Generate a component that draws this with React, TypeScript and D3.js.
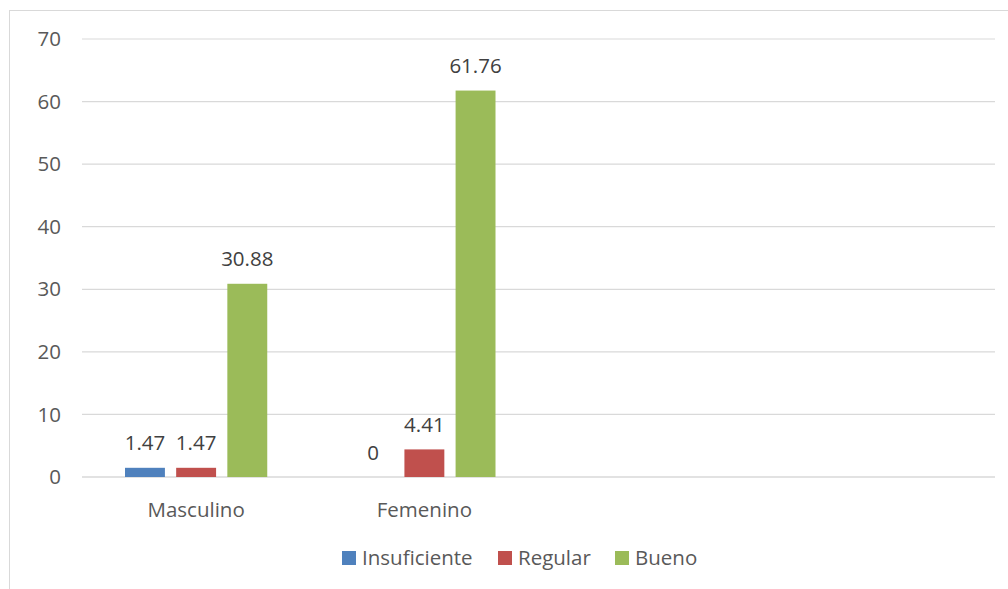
import React from "react";
import * as d3 from "d3";

const categories = ["Masculino", "Femenino", "", " "];
const seriesNames = ["Insuficiente", "Regular", "Bueno"];
const seriesColors = ["#4f81bd", "#c0504d", "#9bbb59"];
const insuficiente = [1.47, 0, null, null];
const regular = [1.47, 4.41, null, null];
const bueno = [30.88, 61.76, null, null];
const yTicks = [0, 10, 20, 30, 40, 50, 60, 70];

const W = 1008;
const H = 589;
const FONT = "'Open Sans', 'Liberation Sans', sans-serif";
const FS = 20.5;
const TEXT = "#595959";

export default function App() {
  const series = [insuficiente, regular, bueno];
  const x = d3.scaleBand<string>().domain(categories).range([82, 995]);
  const y = d3.scaleLinear().domain([0, 70]).range([477, 39]);
  const inner = d3
    .scaleBand<string>()
    .domain(seriesNames)
    .range([43, x.bandwidth() - 43])
    .paddingInner(0.22);

  const legendX = [342, 498, 615];

  return (
    <svg
      width={W}
      height={H}
      style={{ position: "absolute", left: 0, top: 0, background: "#fff" }}
    >
      <rect x={9.5} y={10.5} width={W + 20} height={H + 20} fill="#fff" stroke="#d9d9d9" strokeWidth={1} />
      {yTicks.map((t) => (
        <g key={t}>
          <line x1={82} x2={995} y1={y(t)} y2={y(t)} stroke="#d9d9d9" strokeWidth={t === 0 ? 1.5 : 1.2} />
          <text x={61} y={y(t)} dy="0.35em" textAnchor="end" fontFamily={FONT} fontSize={FS} fill={TEXT}>
            {t}
          </text>
        </g>
      ))}
      {series.map((vals, si) =>
        vals.map((v, ci) => {
          if (v === null) return null;
          const bx = (x(categories[ci]) ?? 0) + (inner(seriesNames[si]) ?? 0);
          const bw = inner.bandwidth();
          return (
            <g key={`${si}-${ci}`}>
              {v > 0 && (
                <rect x={bx} y={y(v)} width={bw} height={y(0) - y(v)} fill={seriesColors[si]} />
              )}
              <text
                x={bx + bw / 2}
                y={y(v) - 17.5}
                textAnchor="middle"
                fontFamily={FONT}
                fontSize={FS}
                fill="#404040"
              >
                {v}
              </text>
            </g>
          );
        })
      )}
      {categories.map((c) =>
        c.trim() ? (
          <text
            key={c}
            x={(x(c) ?? 0) + x.bandwidth() / 2}
            y={517}
            textAnchor="middle"
            fontFamily={FONT}
            fontSize={FS}
            fill={TEXT}
          >
            {c}
          </text>
        ) : null
      )}
      {seriesNames.map((s, i) => (
        <g key={s}>
          <rect x={legendX[i]} y={551} width={14} height={14} fill={seriesColors[i]} />
          <text x={legendX[i] + 20} y={558} dy="0.35em" fontFamily={FONT} fontSize={FS} fill={TEXT}>
            {s}
          </text>
        </g>
      ))}
    </svg>
  );
}
